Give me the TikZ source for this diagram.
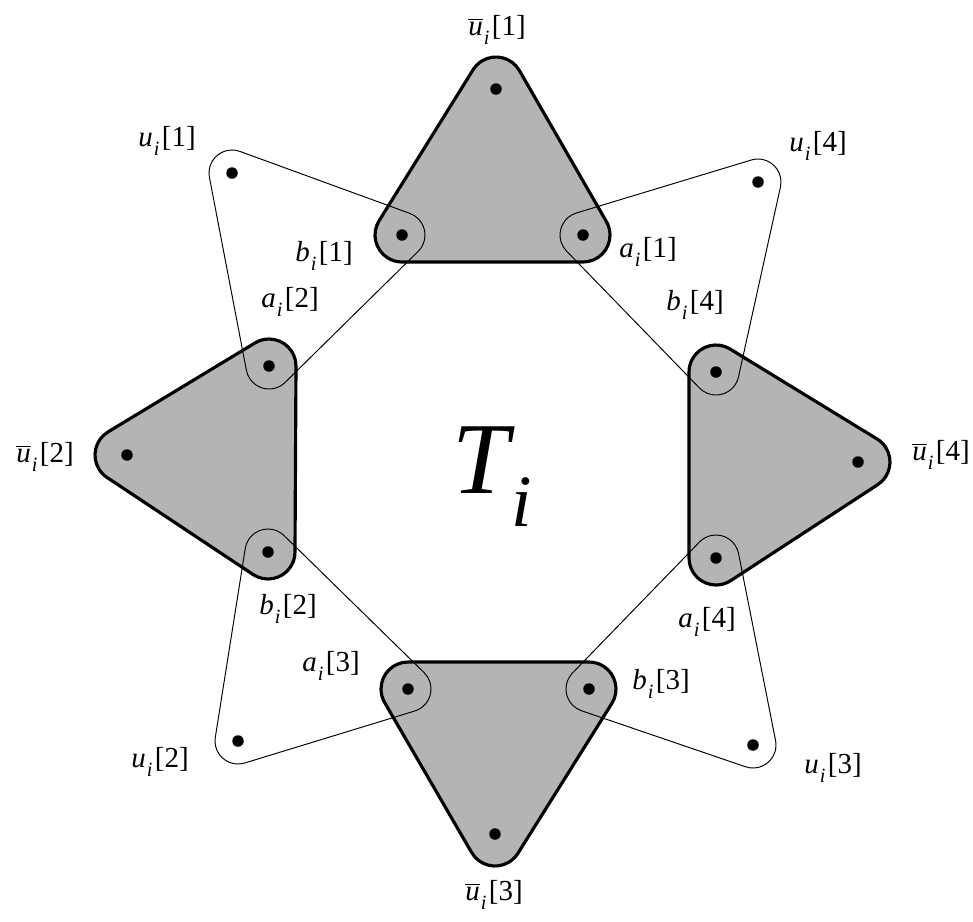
\documentclass[tikz,border=0pt]{standalone}
\usepackage{fontspec}
\setmainfont{Liberation Serif}
\usepackage{tikz}
\usetikzlibrary{calc}
\definecolor{shade}{HTML}{B3B5B3}
\newcommand{\ubar}{$\overline{\mbox{\itshape u}}$}
\newcommand{\vtx}[2]{\textit{#1}\kern0.6pt\raisebox{-5.5pt}{\fontsize{11.5}{12}\selectfont\textit{i}}\kern1.4pt[#2]}
% rounded hull of three points (counterclockwise), corner radius #4
\newcommand{\hullpath}[4]{%
  let \p1=(#1), \p2=(#2), \p3=(#3),
      \n1={atan2(\y2-\y1,\x2-\x1)-90},
      \n2={atan2(\y3-\y2,\x3-\x2)-90},
      \n3={atan2(\y1-\y3,\x1-\x3)-90},
      \n4={mod(\n2-(\n1)+720,360)},
      \n5={mod(\n3-(\n2)+720,360)},
      \n6={mod(\n1-(\n3)+720,360)}
  in ($(#1)+(\n1:#4)$) -- ($(#2)+(\n1:#4)$)
     arc[start angle=\n1, delta angle=\n4, radius=#4]
     -- ($(#3)+(\n2:#4)$)
     arc[start angle=\n2, delta angle=\n5, radius=#4]
     -- ($(#1)+(\n3:#4)$)
     arc[start angle=\n3, delta angle=\n6, radius=#4] -- cycle}

\begin{document}
\begin{tikzpicture}[x=0.02cm, y=0.02cm,
  dot/.style={circle, fill=black, inner sep=0pt, minimum size=0.23cm},
  lbl/.style={font=\fontsize{16.5}{19}\selectfont, inner sep=0pt},
  tri/.style={fill=shade, draw=black, line width=1.8pt, line join=round},
  link/.style={draw=black, line width=0.55pt}]
\useasboundingbox (0,0) rectangle (973,-921);
% vertices
\coordinate (ub1) at (496,-89);
\coordinate (ub2) at (127,-455);
\coordinate (ub3) at (495,-834);
\coordinate (ub4) at (858,-462);
\coordinate (a1) at (583,-235);
\coordinate (b1) at (402,-235);
\coordinate (a2) at (269,-366);
\coordinate (b2) at (268,-552);
\coordinate (a3) at (408,-689);
\coordinate (b3) at (589,-689);
\coordinate (a4) at (716,-558);
\coordinate (b4) at (716,-372);
\coordinate (u1) at (232,-173);
\coordinate (u2) at (238,-741);
\coordinate (u3) at (753,-745);
\coordinate (u4) at (758,-182);
% apex roundings sit a bit further out
\coordinate (c1) at (496,-84);
\coordinate (c2) at (122,-455);
\coordinate (c3) at (495,-839);
\coordinate (c4) at (863,-462);

% grey triangles
\path[tri] \hullpath{c1}{b1}{a1}{0.54cm};
\path[tri] \hullpath{c2}{b2}{a2}{0.54cm};
\path[tri] \hullpath{c3}{b3}{a3}{0.54cm};
\path[tri] \hullpath{c4}{b4}{a4}{0.54cm};

% thin triangles
\path[link] \hullpath{u1}{a2}{b1}{0.46cm};
\path[link] \hullpath{u2}{a3}{b2}{0.46cm};
\path[link] \hullpath{u3}{a4}{b3}{0.46cm};
\path[link] \hullpath{u4}{a1}{b4}{0.46cm};

\foreach \v in {ub1,ub2,ub3,ub4,a1,b1,a2,b2,a3,b3,a4,b4,u1,u2,u3,u4}
  \node[dot] (d\v) at (\v) {};

% labels
\node[lbl] (lub1) at (497,-30) {\vtx{\ubar}{1}};
\node[lbl] (lub2) at (45,-457) {\vtx{\ubar}{2}};
\node[lbl] (lub3) at (494,-895) {\vtx{\ubar}{3}};
\node[lbl] (lub4) at (941,-455) {\vtx{\ubar}{4}};
\node[lbl] (la1) at (648,-252) {\vtx{a}{1}};
\node[lbl] (lb1) at (324,-256) {\vtx{b}{1}};
\node[lbl] (la2) at (290,-302) {\vtx{a}{2}};
\node[lbl] (lb2) at (288,-609) {\vtx{b}{2}};
\node[lbl] (la3) at (331,-666) {\vtx{a}{3}};
\node[lbl] (lb3) at (661,-684) {\vtx{b}{3}};
\node[lbl] (la4) at (707,-622) {\vtx{a}{4}};
\node[lbl] (lb4) at (695,-305) {\vtx{b}{4}};
\node[lbl] (lu1) at (167,-141) {\vtx{u}{1}};
\node[lbl] (lu2) at (160,-762) {\vtx{u}{2}};
\node[lbl] (lu3) at (833,-768) {\vtx{u}{3}};
\node[lbl] (lu4) at (818,-146) {\vtx{u}{4}};

\node[inner sep=0pt, anchor=base west] (title) at (452,-493)
  {\fontsize{58}{60}\selectfont\textit{T}\kern-2pt\raisebox{-19pt}{\fontsize{42}{44}\selectfont\textit{i}}};
\end{tikzpicture}
\end{document}
